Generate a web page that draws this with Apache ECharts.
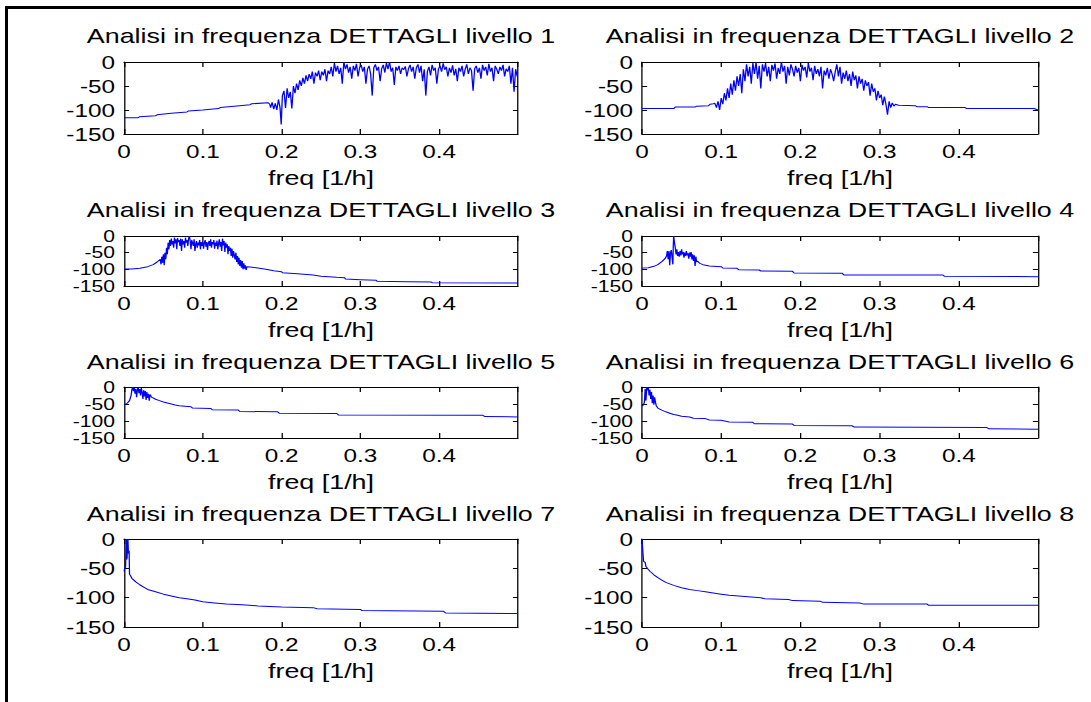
<!DOCTYPE html>
<html>
<head>
<meta charset="utf-8">
<title>Analisi in frequenza DETTAGLI</title>
<script src="https://cdn.jsdelivr.net/npm/echarts@6/dist/echarts.min.js"></script>
<style>
  html, body { margin: 0; padding: 0; background: #fff; overflow: hidden; }
  #frame { position: absolute; left: 5px; top: 6px; width: 1100px; height: 720px;
           border-left: 3px solid #000; border-top: 3px solid #000; }
  #main { position: absolute; left: 0; top: 0; height: 702px; transform-origin: 0 0; }
</style>
</head>
<body>
<div id="frame"></div>
<div id="main"></div>
<script>
// Spectra (dB) of the wavelet detail coefficients, levels 1..8, as [freq 1/h, dB].
const dettagli1 = [
  [0,-116],[0.018,-116],[0.02,-114],[0.04,-112],[0.042,-110],[0.06,-107],[0.08,-104],[0.082,-102],
  [0.1,-100],[0.12,-97],[0.122,-95],[0.14,-92],[0.16,-89],[0.162,-87],[0.183,-85],
  [0.185,-88],[0.186,-95],[0.188,-84],[0.19,-98],[0.192,-86],[0.194,-100],[0.196,-78],[0.198,-95],
  [0.1995,-130],[0.201,-70],[0.203,-60],[0.205,-96],[0.207,-55],[0.209,-75],[0.211,-62],[0.213,-97],
  [0.215,-50],[0.217,-65],[0.219,-45],[0.221,-58],[0.223,-38],[0.225,-50],[0.227,-33],[0.229,-45],
  [0.231,-28],[0.233,-40],[0.235,-25],[0.237,-35],[0.239,-20],[0.241,-45],[0.243,-22],[0.245,-30],
  [0.247,-18],[0.249,-38],[0.251,-20],[0.253,-28],[0.255,-15],[0.257,-40],[0.259,-18],[0.261,-25],
  [0.263,-10],[0.265,-30],[0.267,-2],[0.269,-20],[0.271,-8],[0.273,-25],[0.275,-12],[0.277,-45],
  [0.279,0],[0.281,-15],[0.283,-5],[0.285,-22],[0.287,-10],[0.289,-35],[0.291,-8],[0.293,-18],
  [0.295,-4],[0.297,-30],[0.299,-12],[0.301,-6],[0.303,-20],[0.305,-10],[0.307,-45],[0.309,-15],
  [0.311,-8],[0.313,-25],[0.315,-70],[0.317,-12],[0.319,-5],[0.321,-18],[0.323,-10],[0.325,-40],
  [0.327,-14],[0.329,-6],[0.331,-22],[0.333,-2],[0.335,-15],[0.337,0],[0.339,-20],[0.341,-12],
  [0.343,-48],[0.345,-10],[0.347,-18],[0.349,-8],[0.351,-25],[0.353,-12],[0.355,-16],[0.357,-9],
  [0.359,-30],[0.361,-14],[0.363,-6],[0.365,-20],[0.367,-10],[0.369,-35],[0.371,-12],[0.373,-5],
  [0.375,-22],[0.377,-8],[0.379,-40],[0.381,-15],[0.383,-70],[0.385,-20],[0.387,-10],[0.389,-28],
  [0.391,-6],[0.393,-18],[0.395,-12],[0.397,-45],[0.399,-15],[0.401,-8],[0.403,-20],[0.405,-3],
  [0.407,-16],[0.409,-10],[0.411,-30],[0.413,-12],[0.415,-22],[0.417,-7],[0.419,-28],[0.421,-14],
  [0.423,-40],[0.425,-12],[0.427,-20],[0.429,-8],[0.431,-30],[0.433,-15],[0.435,-5],[0.437,-25],
  [0.439,-12],[0.441,-18],[0.443,-60],[0.445,-14],[0.447,-8],[0.449,-22],[0.451,-12],[0.453,-35],
  [0.455,-6],[0.457,-18],[0.459,-10],[0.461,-28],[0.463,-4],[0.465,-20],[0.467,-12],[0.469,-40],
  [0.471,-8],[0.473,-15],[0.475,-25],[0.477,-10],[0.479,-18],[0.481,-6],[0.483,-30],[0.485,-14],
  [0.487,-20],[0.489,-8],[0.491,-45],[0.493,-12],[0.495,-62],[0.497,-15],[0.499,-30]
];
const dettagli2 = [
  [0,-97],[0.04,-97],[0.042,-94],[0.067,-94],[0.069,-92],[0.084,-91],[0.086,-88],[0.09,-87],
  [0.092,-86],[0.094,-95],[0.096,-82],[0.098,-100],[0.1,-75],[0.102,-88],[0.104,-65],[0.106,-80],
  [0.108,-55],[0.11,-75],[0.112,-45],[0.114,-68],[0.116,-38],[0.118,-60],[0.12,-30],[0.122,-50],
  [0.124,-25],[0.126,-65],[0.128,-15],[0.13,-40],[0.132,-5],[0.134,-30],[0.136,-10],[0.138,-45],
  [0.14,-2],[0.142,-25],[0.144,0],[0.146,-35],[0.148,-8],[0.15,-55],[0.152,-5],[0.154,-20],
  [0.156,-2],[0.158,-30],[0.16,-10],[0.162,-40],[0.164,-6],[0.166,-18],[0.168,-3],[0.17,-35],
  [0.172,-12],[0.174,-25],[0.176,0],[0.178,-20],[0.18,-8],[0.182,-45],[0.184,-10],[0.186,-28],
  [0.188,-5],[0.19,-15],[0.192,-30],[0.194,-8],[0.196,-22],[0.198,-12],[0.2,-40],[0.202,-6],
  [0.204,-18],[0.206,-10],[0.208,-32],[0.21,-2],[0.212,-20],[0.214,-12],[0.216,-38],[0.218,-8],
  [0.22,-25],[0.222,-15],[0.224,-30],[0.226,-10],[0.228,-55],[0.23,-18],[0.232,-28],[0.234,-12],
  [0.236,-35],[0.238,-15],[0.24,-25],[0.242,-40],[0.244,-20],[0.246,-5],[0.248,-30],[0.25,-10],
  [0.252,-45],[0.254,-22],[0.256,-35],[0.258,-18],[0.26,-40],[0.262,-25],[0.264,-50],[0.266,-20],
  [0.268,-38],[0.27,-28],[0.272,-55],[0.274,-30],[0.276,-45],[0.278,-35],[0.28,-60],[0.282,-38],
  [0.284,-50],[0.286,-42],[0.288,-70],[0.29,-45],[0.292,-62],[0.294,-55],[0.296,-80],[0.298,-60],
  [0.3,-75],[0.302,-68],[0.304,-90],[0.306,-72],[0.308,-88],[0.31,-110],[0.312,-82],[0.314,-95],
  [0.316,-85],[0.318,-92],[0.32,-88],[0.324,-90],[0.345,-91],[0.347,-93],[0.36,-93],[0.362,-95],
  [0.408,-95],[0.41,-97],[0.495,-97],[0.5,-100]
];
const dettagli3 = [
  [0,-99],[0.01,-99],[0.02,-97],[0.03,-92],[0.037,-86],[0.042,-78],[0.046,-70],
  [0.047,-85],[0.048,-62],[0.049,-80],[0.05,-55],[0.051,-88],[0.052,-50],[0.053,-70],[0.054,-35],
  [0.055,-55],[0.056,-20],[0.057,-40],[0.058,-12],[0.059,-30],[0.06,-8],[0.061,-25],[0.062,-15],
  [0.063,-35],[0.064,-5],[0.065,-22],[0.066,-10],[0.067,-40],[0.068,-6],[0.069,-18],[0.07,-12],
  [0.071,-30],[0.072,-8],[0.073,-45],[0.074,-10],[0.075,-25],[0.076,-15],[0.077,-35],[0.078,-5],
  [0.079,-20],[0.08,-12],[0.081,-30],[0.082,-8],[0.083,0],[0.084,-15],[0.085,-40],[0.086,-12],
  [0.087,-22],[0.088,-30],[0.089,-10],[0.09,-45],[0.091,-25],[0.092,-15],[0.093,-35],[0.094,-20],
  [0.095,-28],[0.096,-12],[0.097,-40],[0.098,-18],[0.099,-30],[0.1,-15],[0.101,-38],[0.102,-20],
  [0.103,-12],[0.104,-32],[0.105,-18],[0.106,-42],[0.107,-22],[0.108,-15],[0.109,-30],[0.11,-10],
  [0.111,-35],[0.112,-18],[0.113,-25],[0.114,-12],[0.115,-38],[0.116,-20],[0.117,-30],[0.118,-14],
  [0.119,-40],[0.12,-22],[0.121,-10],[0.122,-32],[0.123,-18],[0.124,-45],[0.125,-8],[0.126,-28],
  [0.127,-15],[0.128,-48],[0.129,-20],[0.13,-35],[0.131,-25],[0.132,-55],[0.133,-30],[0.134,-45],
  [0.135,-35],[0.136,-60],[0.137,-38],[0.138,-65],[0.139,-45],[0.14,-58],[0.141,-70],[0.142,-50],
  [0.143,-78],[0.144,-60],[0.145,-85],[0.146,-65],[0.147,-90],[0.148,-72],[0.149,-95],[0.15,-75],
  [0.151,-100],[0.152,-82],[0.153,-98],[0.154,-88],[0.155,-102],[0.156,-92],
  [0.16,-93],[0.17,-96],[0.18,-100],[0.19,-104],[0.2,-107],[0.201,-110],[0.22,-113],[0.24,-117],
  [0.25,-121],[0.27,-124],[0.28,-125],[0.281,-129],[0.3,-131],[0.32,-133],[0.321,-136],[0.36,-137],
  [0.39,-138],[0.391,-140],[0.5,-141]
];
const dettagli4 = [
  [0,-96],[0.008,-95],[0.015,-91],[0.02,-86],[0.025,-77],[0.029,-68],[0.031,-60],[0.032,-45],
  [0.033,-70],[0.034,-45],[0.035,-88],[0.036,-50],[0.037,-42],[0.038,-65],[0.039,-85],[0.0395,-30],
  [0.04,0],[0.041,-20],[0.042,-35],[0.043,-55],[0.044,-40],[0.045,-60],[0.046,-48],[0.047,-62],
  [0.048,-45],[0.049,-58],[0.05,-40],[0.051,-55],[0.052,-48],[0.053,-65],[0.054,-50],[0.055,-60],
  [0.056,-45],[0.057,-58],[0.058,-52],[0.059,-68],[0.06,-50],[0.061,-62],[0.062,-48],[0.063,-70],
  [0.064,-55],[0.065,-75],[0.066,-58],[0.067,-90],[0.068,-62],[0.069,-78],[0.07,-75],[0.073,-82],
  [0.077,-86],[0.085,-90],[0.1,-92],[0.102,-96],[0.12,-97],[0.122,-101],[0.148,-102],[0.15,-105],
  [0.19,-106],[0.192,-111],[0.253,-112],[0.255,-117],[0.38,-117],[0.382,-121],[0.5,-122]
];
const dettagli5 = [
  [0,-52],[0.004,-48],[0.007,-40],[0.009,-25],[0.01,-8],[0.011,0],[0.012,-12],[0.013,-2],
  [0.014,-20],[0.015,-5],[0.016,-30],[0.017,-8],[0.018,0],[0.019,-18],[0.02,-6],[0.021,-25],
  [0.022,-3],[0.023,-15],[0.024,-35],[0.025,-10],[0.026,-28],[0.027,-12],[0.028,-38],[0.029,-15],
  [0.03,-32],[0.031,-20],[0.032,-40],[0.033,-22],[0.035,-30],[0.04,-36],[0.045,-40],[0.05,-44],
  [0.06,-50],[0.065,-53],[0.07,-55],[0.085,-58],[0.087,-62],[0.11,-63],[0.112,-67],[0.145,-68],
  [0.147,-72],[0.195,-73],[0.197,-77],[0.27,-78],[0.272,-82],[0.455,-83],[0.458,-87],[0.5,-88]
];
const dettagli6 = [
  [0,-56],[0.002,-52],[0.003,-45],[0.004,-5],[0.005,-40],[0.006,0],[0.007,-10],[0.008,-2],
  [0.009,-25],[0.01,-8],[0.011,-35],[0.012,-15],[0.013,-48],[0.014,-25],[0.015,-52],[0.016,-30],
  [0.017,-45],[0.018,-55],[0.02,-62],[0.025,-68],[0.03,-73],[0.035,-77],[0.04,-81],[0.045,-83],
  [0.05,-86],[0.06,-88],[0.065,-92],[0.08,-93],[0.085,-97],[0.1,-98],[0.11,-103],[0.14,-104],
  [0.142,-108],[0.19,-109],[0.192,-113],[0.265,-114],[0.268,-118],[0.435,-119],[0.438,-123],[0.5,-124]
];
const dettagli7 = [
  [0,-55],[0.001,-50],[0.002,-48],[0.0025,-20],[0.003,0],[0.0035,-35],[0.004,-30],[0.0045,-5],
  [0.005,0],[0.0055,-22],[0.006,-25],[0.0065,-20],[0.007,-60],[0.008,-62],[0.01,-67],[0.015,-73],
  [0.02,-78],[0.025,-82],[0.03,-86],[0.04,-90],[0.05,-94],[0.06,-97],[0.07,-100],[0.08,-102],
  [0.09,-104],[0.1,-107],[0.115,-109],[0.13,-111],[0.15,-112],[0.17,-114],[0.2,-116],[0.24,-117],
  [0.245,-119],[0.3,-120],[0.302,-122],[0.405,-123],[0.408,-126],[0.5,-127]
];
const dettagli8 = [
  [0,0],[0.001,-20],[0.002,-38],[0.004,-40],[0.005,-47],[0.008,-52],[0.01,-55],[0.015,-61],
  [0.02,-66],[0.025,-70],[0.03,-74],[0.04,-79],[0.05,-83],[0.06,-86],[0.07,-88],[0.08,-90],
  [0.09,-92],[0.1,-94],[0.11,-96],[0.13,-98],[0.15,-100],[0.155,-102],[0.185,-103],[0.19,-105],
  [0.225,-106],[0.228,-108],[0.275,-109],[0.28,-111],[0.36,-111],[0.362,-113],[0.5,-113]
];

const titoli = [
  'Analisi in frequenza DETTAGLI livello 1', 'Analisi in frequenza DETTAGLI livello 2',
  'Analisi in frequenza DETTAGLI livello 3', 'Analisi in frequenza DETTAGLI livello 4',
  'Analisi in frequenza DETTAGLI livello 5', 'Analisi in frequenza DETTAGLI livello 6',
  'Analisi in frequenza DETTAGLI livello 7', 'Analisi in frequenza DETTAGLI livello 8'
];
const etichettaAsseX = 'freq [1/h]';
const freqRange = [0, 0.5];
const freqStep = 0.1;
const dbRange = [-150, 0];
const dbStep = 50;

const spettri = [dettagli1, dettagli2, dettagli3, dettagli4, dettagli5, dettagli6, dettagli7, dettagli8];

// The figure is drawn a bit narrower and widened with a horizontal scale,
// which gives the wide lettering of the printed figure.
const STRETCH = 1.28;
const W = 1091 / STRETCH;
const H = 702;

// Subplot boxes (figure pixels): column x-extent and row y-extent.
const colX = [[124, 518], [642, 1038]];
const rowY = [[62, 134], [236, 286], [387, 438], [539, 627]];
const titleY = [35.5, 210, 361.5, 513.7];

const FONT = "'Liberation Sans', Arial, Helvetica, sans-serif";
const black = '#000';

const dom = document.getElementById('main');
dom.style.width = W + 'px';
dom.style.transform = 'scaleX(' + STRETCH + ')';
const chart = echarts.init(dom, null, { renderer: 'svg', width: W, height: H });

const grids = [], xAxes = [], yAxes = [], series = [], titles = [];

spettri.forEach(function (data, i) {
  const c = i % 2, r = Math.floor(i / 2);
  const x0 = colX[c][0], x1 = colX[c][1], y0 = rowY[r][0], y1 = rowY[r][1];
  grids.push({ left: x0 / STRETCH, top: y0, width: (x1 - x0) / STRETCH, height: y1 - y0, containLabel: false });

  titles.push({
    text: titoli[i], left: (x0 + x1) / 2 / STRETCH, top: titleY[r],
    textAlign: 'center', textVerticalAlign: 'middle', padding: 0,
    textStyle: { fontFamily: FONT, fontSize: 21, fontWeight: 'normal', color: black }
  });

  const line = { show: true, onZero: false, lineStyle: { color: black, width: 1 } };
  const xBase = {
    type: 'value', gridIndex: i, min: freqRange[0], max: freqRange[1], interval: freqStep,
    splitLine: { show: false }, axisLine: line,
    axisTick: { show: true, inside: true, length: 5, lineStyle: { color: black, width: 1 } }
  };
  xAxes.push(Object.assign({}, xBase, {
    position: 'bottom',
    axisLabel: { show: true, showMaxLabel: false, hideOverlap: false, margin: 8,
                 fontFamily: FONT, fontSize: 19, color: black },
    name: etichettaAsseX, nameLocation: 'middle', nameGap: 33,
    nameTextStyle: { fontFamily: FONT, fontSize: 21, color: black }
  }));
  xAxes.push(Object.assign({}, xBase, { position: 'top', axisLabel: { show: false } }));

  // dB labels: the end values (0, -150) sit on the framed left axis, the inner
  // ones (-50, -100) on a bare companion axis, so that short panels keep all four.
  const compatto = (y1 - y0) < 60;
  const labelStyle = {
    show: true, hideOverlap: false, margin: 7, fontFamily: FONT,
    fontSize: compatto ? 16.5 : 19, lineHeight: compatto ? 12 : 20, color: black
  };
  const yBase = {
    type: 'value', gridIndex: i, min: dbRange[0], max: dbRange[1], interval: dbStep,
    splitLine: { show: false }, axisLine: line,
    axisTick: { show: true, inside: true, length: 4, lineStyle: { color: black, width: 1 } }
  };
  yAxes.push(Object.assign({}, yBase, {
    position: 'left',
    axisLabel: Object.assign({}, labelStyle, {
      showMinLabel: true, showMaxLabel: true,
      formatter: function (v) { return (v === dbRange[0] || v === dbRange[1]) ? String(v) : ''; }
    })
  }));
  yAxes.push(Object.assign({}, yBase, { position: 'right', axisLabel: { show: false } }));
  yAxes.push(Object.assign({}, yBase, {
    position: 'left', offset: 0,
    axisLine: { show: false, onZero: false }, axisTick: { show: false },
    axisLabel: Object.assign({}, labelStyle, { showMinLabel: false, showMaxLabel: false })
  }));

  series.push({
    type: 'line', xAxisIndex: 2 * i, yAxisIndex: 3 * i, data: data,
    symbol: 'none', showSymbol: false, silent: true,
    lineStyle: { color: '#0000ff', width: 1 }
  });
});

chart.setOption({
  animation: false,
  backgroundColor: 'transparent',
  title: titles,
  grid: grids,
  xAxis: xAxes,
  yAxis: yAxes,
  series: series
});
</script>
</body>
</html>
